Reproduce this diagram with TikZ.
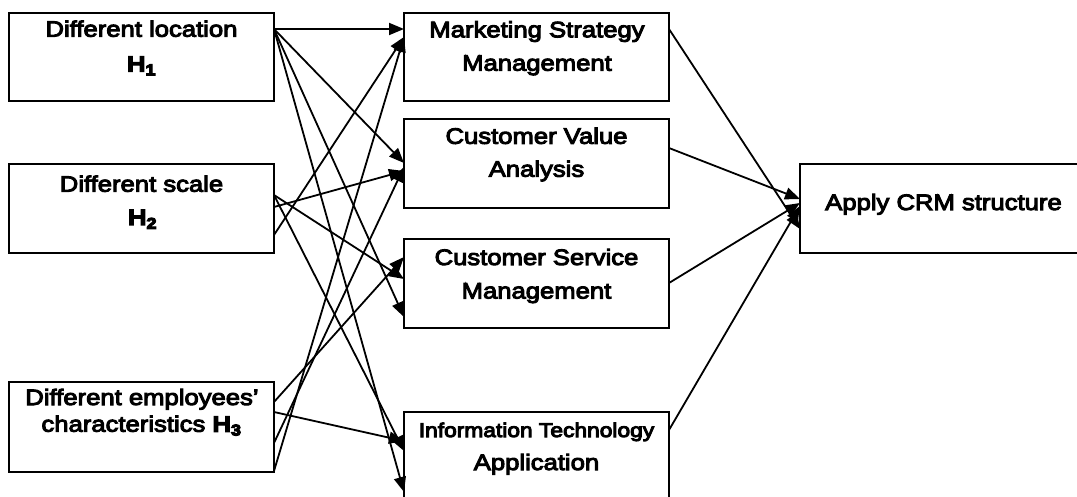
\documentclass[tikz,border=0pt]{standalone}
\usepackage{fontspec}
\setmainfont{Liberation Sans}[FakeStretch=1.15]
\usetikzlibrary{arrows.meta,calc}

% medium-weight text: glyphs filled and stroked with a thin outline
\newcommand{\med}[1]{\special{pdf:literal direct 2 Tr 1.0 w}#1\special{pdf:literal direct 0 Tr}}
\newcommand{\Hsub}[1]{{\bfseries\special{pdf:literal direct 2 Tr 1.1 w}H\textsubscript{#1}\special{pdf:literal direct 0 Tr}}}

\tikzset{
  box/.style={draw, line width=1.9pt, minimum width=265pt, minimum height=89pt,
    inner sep=0pt, outer sep=0pt},
  lbl/.style={anchor=base, inner sep=0pt, font=\fontsize{22.3}{26}\selectfont},
  smalllbl/.style={lbl, font=\fontsize{19.8}{23}\selectfont},
  link/.style={line width=1.8pt, -{Triangle[length=15pt,width=12pt]}},
}

\begin{document}
\begin{tikzpicture}[x=1pt,y=-1pt]
\path[use as bounding box] (0,0) rectangle (1077,497);
\clip (0,0) rectangle (1077,497);

% factor boxes
\node[box, minimum height=88pt] (L1) at (141.5,57) {};
\node[box] (L2) at (141.5,208.5) {};
\node[box, minimum height=90pt] (L3) at (141.5,427) {};

% CRM component boxes
\node[box, minimum height=88pt] (M1) at (536.5,57) {};
\node[box] (M2) at (536.5,163.5) {};
\node[box] (M3) at (536.5,283.5) {};
\node[box, minimum height=108pt] (M4) at (536.5,466) {};

% outcome box
\node[box, minimum width=287pt] (CRM) at (943.5,208.5) {};

% texts
\node[lbl] (L1a) at (141.5,36.7) {\med{Different location}};
\node[lbl] (L1b) at (141.5,71.7) {\Hsub{1}};
\node[lbl] (L2a) at (141.5,191.7) {\med{Different scale}};
\node[lbl] (L2b) at (142.5,225) {\Hsub{2}};
\node[lbl] (L3a) at (142,405) {\med{Different employees’}};
\node[lbl] (L3b) at (141.5,431.7) {\med{characteristics} \Hsub{3}};

\node[lbl] (M1a) at (537,37.3) {\med{Marketing Strategy}};
\node[lbl] (M1b) at (537,70.7) {\med{Management}};
\node[lbl] (M2a) at (536.5,143.8) {\med{Customer Value}};
\node[lbl] (M2b) at (536.5,176.7) {\med{Analysis}};
\node[lbl] (M3a) at (536.5,265) {\med{Customer Service}};
\node[lbl] (M3b) at (536.5,298.5) {\med{Management}};
\node[smalllbl] (M4a) at (536.5,437) {\med{Information Technology}};
\node[lbl] (M4b) at (536.5,470) {\med{Application}};

\node[lbl] (CRMa) at (943.5,210) {\med{Apply CRM structure}};

% links from Different location
\draw[link] ($(L1.north east)+(0,16)$) -- ($(M1.north west)+(0,16)$);
\draw[link] ($(L1.north east)+(0,16)$) -- ($(M2.north west)+(0,44)$);
\draw[link] ($(L1.north east)+(0,16)$) -- ($(M3.north west)+(0,78)$);
\draw[link] ($(L1.north east)+(0,16)$) -- ($(M4.north west)+(0,80)$);

% links from Different scale
\draw[link] ($(L2.north east)+(0,71)$) -- ($(M1.north west)+(0,24)$);
\draw[link] ($(L2.north east)+(0,43)$) -- ($(M2.north west)+(0,52)$);
\draw[link] ($(L2.north east)+(0,31)$) -- ($(M3.north west)+(0,40)$);
\draw[link] ($(L2.north east)+(0,31)$) -- ($(M4.north west)+(0,39)$);

% links from Different employees' characteristics
\draw[link] ($(L3.north east)+(0,89)$) -- ($(M1.north west)+(0,24)$);
\draw[link] ($(L3.north east)+(0,61)$) -- ($(M2.north west)+(0,48)$);
\draw[link] ($(L3.north east)+(0,20)$) -- ($(M3.north west)+(0,18)$);
\draw[link] ($(L3.north east)+(0,30)$) -- ($(M4.north west)+(0,29)$);

% links into Apply CRM structure
\draw[link] ($(M1.north east)+(0,16)$) -- ($(CRM.north west)+(0,65)$);
\draw[link] ($(M2.north east)+(0,29)$) -- ($(CRM.north west)+(0,35)$);
\draw[link] ($(M3.north east)+(0,44)$) -- ($(CRM.north west)+(0,39)$);
\draw[link] ($(M4.north east)+(0,18)$) -- ($(CRM.north west)+(0,42)$);
\end{tikzpicture}
\end{document}
